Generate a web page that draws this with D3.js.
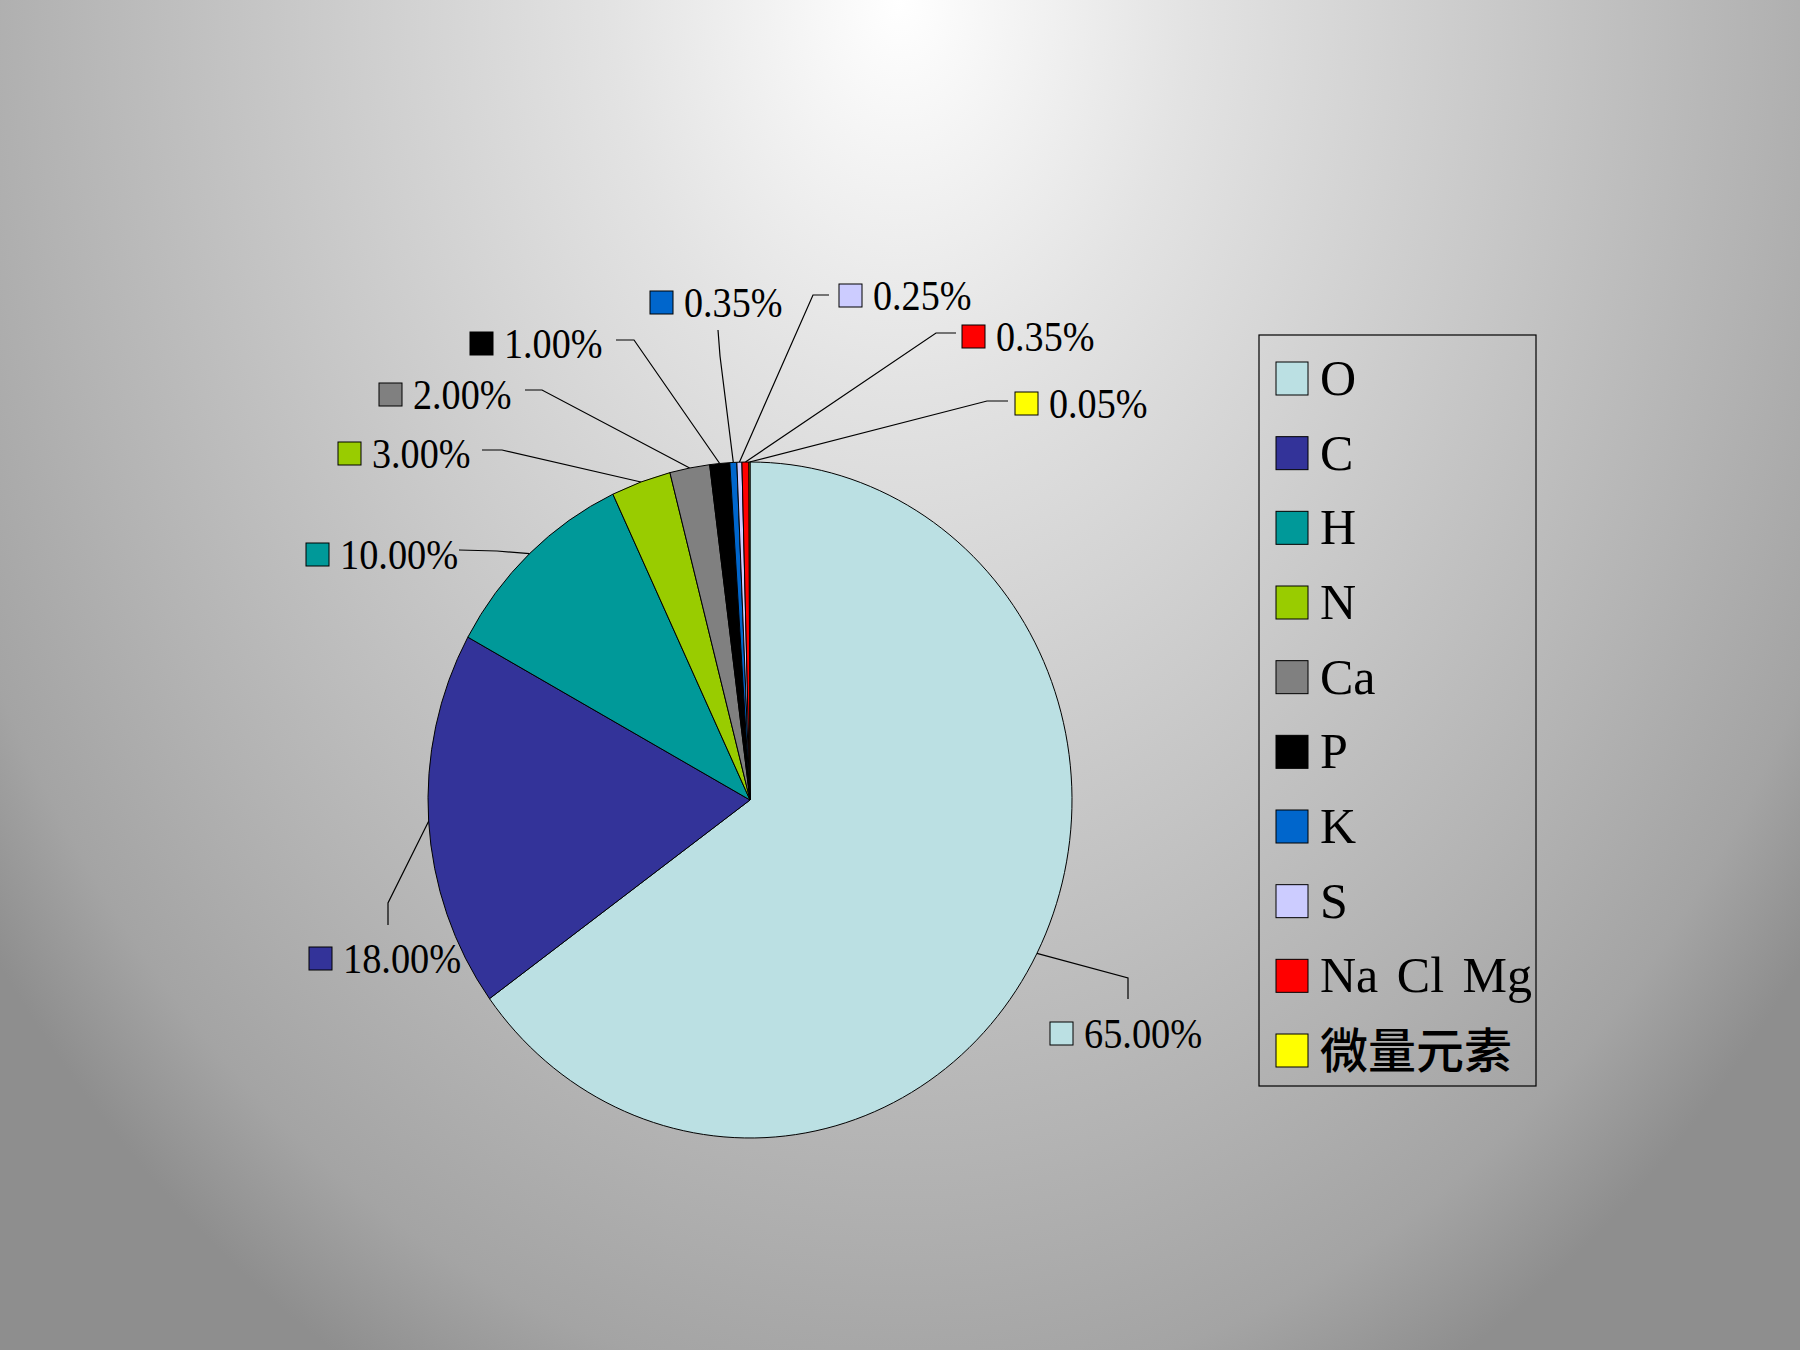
<!DOCTYPE html>
<html>
<head>
<meta charset="utf-8">
<script src="https://cdn.jsdelivr.net/npm/d3@7"></script>
<style>
  body { margin: 0; background: #999; }
  svg { display: block; }
  .pct { font-family: "Liberation Serif", "DejaVu Serif", serif; font-size: 42px; fill: #000; }
  .legend-text { font-family: "Liberation Serif", "DejaVu Serif", serif; font-size: 50px; fill: #000; }
  .legend-cjk { font-family: "Noto Sans CJK SC", sans-serif; font-size: 48px; font-weight: 500; fill: #000; }
</style>
</head>
<body>
<svg id="chart" width="1800" height="1350"></svg>
<script>
// element shares of body mass
const elements = ["O", "C", "H", "N", "Ca", "P", "K", "S", "Na Cl Mg", "微量元素"];
const percents = [65, 18, 10, 3, 2, 1, 0.35, 0.25, 0.35, 0.05];
const colors = ["#bbe0e3", "#333399", "#009999", "#99cc00", "#808080",
                "#000000", "#0066cc", "#ccccff", "#ff0000", "#ffff00"];

// where the data labels were dragged to (box left / text baseline, leader bend and tail)
const labelSpots = [
  { box: [1050, 1048], bend: [1128, 978], tail: [1128, 999] },
  { box: [309, 973],   bend: [388, 903],  tail: [388, 925] },
  { box: [306, 569],   bend: [497, 551],  tail: [459, 550] },
  { box: [338, 468],   bend: [502, 450],  tail: [482, 450] },
  { box: [379, 409],   bend: [542, 390],  tail: [525, 390] },
  { box: [470, 358],   bend: [634, 340],  tail: [616, 340] },
  { box: [650, 317],   bend: [720, 356],  tail: [718, 330] },
  { box: [839, 310],   bend: [813, 295],  tail: [829, 295] },
  { box: [962, 351],   bend: [936, 333],  tail: [956, 333] },
  { box: [1015, 418],  bend: [987, 401],  tail: [1008, 401] }
];

const svg = d3.select("#chart");
const width = 1800, height = 1350;

// background shading, light at the top centre
const defs = svg.append("defs");
const grad = defs.append("radialGradient")
  .attr("id", "bg")
  .attr("gradientUnits", "userSpaceOnUse")
  .attr("cx", 900).attr("cy", 0).attr("r", 1150)
  .attr("gradientTransform", "translate(900,0) scale(1,1.35) translate(-900,0)");
[[0, "#ffffff"], [0.25, "#e3e3e3"], [0.5, "#cbcbcb"], [0.75, "#b3b3b3"], [0.9, "#a4a4a4"], [1, "#8e8e8e"]]
  .forEach(([o, c]) => grad.append("stop").attr("offset", o).attr("stop-color", c));

svg.append("rect")
  .attr("width", width).attr("height", height)
  .attr("fill", "url(#bg)");

// pie is a bit taller than wide
const cx = 750, cy = 800, rx = 322, ry = 338;

const pie = d3.pie().sort(null).value(d => d);
const arcs = pie(percents);
const arc = d3.arc().innerRadius(0).outerRadius(ry);

const pieG = svg.append("g")
  .attr("transform", `translate(${cx},${cy}) scale(${rx / ry},1)`);

pieG.selectAll("path")
  .data(arcs)
  .enter()
  .append("path")
  .attr("d", arc)
  .attr("fill", (d, i) => colors[i])
  .attr("stroke", "#000")
  .attr("stroke-width", 1)
  .attr("vector-effect", "non-scaling-stroke");

// point on the ellipse rim at the middle of a slice
const rimPoint = d => {
  const a = (d.startAngle + d.endAngle) / 2;
  return [cx + rx * Math.sin(a), cy - ry * Math.cos(a)];
};

const fmt = d3.format(".2%");
const line = d3.line();

// leader lines
svg.append("g")
  .selectAll("path")
  .data(arcs)
  .enter()
  .append("path")
  .attr("d", (d, i) => line([rimPoint(d), labelSpots[i].bend, labelSpots[i].tail]))
  .attr("fill", "none")
  .attr("stroke", "#000")
  .attr("stroke-width", 1.2);

// data labels: small key + percentage
const labelG = svg.append("g")
  .selectAll("g")
  .data(arcs)
  .enter()
  .append("g")
  .attr("transform", (d, i) => `translate(${labelSpots[i].box[0]},${labelSpots[i].box[1]})`);

labelG.append("rect")
  .attr("x", 0).attr("y", -26)
  .attr("width", 23).attr("height", 23)
  .attr("fill", (d, i) => colors[i])
  .attr("stroke", "#000")
  .attr("stroke-width", 1);

labelG.append("text")
  .attr("class", "pct")
  .attr("x", 34)
  .attr("y", 0)
  .attr("textLength", d => fmt(d.value / 100).length * 19.7)
  .attr("lengthAdjust", "spacingAndGlyphs")
  .text(d => fmt(d.value / 100));

// legend
const legend = { x: 1259, y: 335, w: 277, h: 751 };
const legendG = svg.append("g");

legendG.append("rect")
  .attr("x", legend.x).attr("y", legend.y)
  .attr("width", legend.w).attr("height", legend.h)
  .attr("fill", "none")
  .attr("stroke", "#000")
  .attr("stroke-width", 1.2);

const rowY = d3.scalePoint()
  .domain(elements)
  .range([378, 1050]);

const item = legendG.selectAll("g.item")
  .data(elements)
  .enter()
  .append("g")
  .attr("class", "item")
  .attr("transform", d => `translate(${legend.x}, ${rowY(d)})`);

item.append("rect")
  .attr("x", 17).attr("y", -16)
  .attr("width", 32).attr("height", 33)
  .attr("fill", (d, i) => colors[i])
  .attr("stroke", "#000")
  .attr("stroke-width", 1);

item.append("text")
  .attr("class", d => /[\u4e00-\u9fff]/.test(d) ? "legend-cjk" : "legend-text")
  .attr("x", 61)
  .attr("y", d => /[\u4e00-\u9fff]/.test(d) ? 18 : 17)
  .attr("word-spacing", 6)
  .text(d => d);
</script>
</body>
</html>
